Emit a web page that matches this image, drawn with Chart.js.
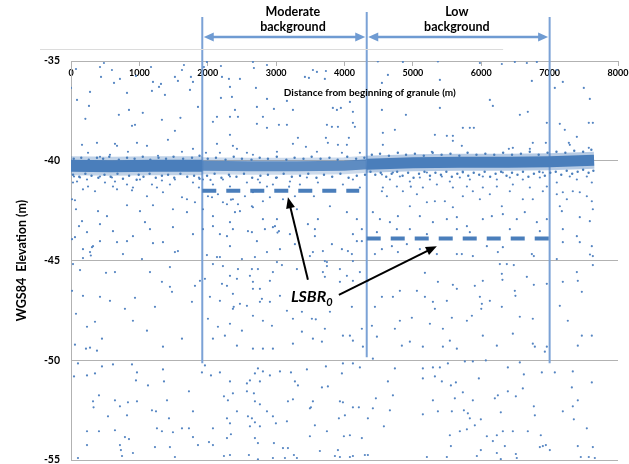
<!DOCTYPE html>
<html>
<head>
<meta charset="utf-8">
<script src="https://cdn.jsdelivr.net/npm/chart.js@4.4.0/dist/chart.umd.min.js"></script>
<style>
  html, body { margin: 0; padding: 0; background: #fff; }
</style>
</head>
<body>
<canvas id="lsbrChart" width="629" height="464"></canvas>
<script>
// --- dados ---
const xTicks = [0, 1000, 2000, 3000, 4000, 5000, 6000, 7000, 8000];
const yTicks = [-35, -40, -45, -50, -55];

// limites das regioes (m) e o nivel LSBR0 de cada uma
const regionX = [1920, 4325, 7000];
const regionTop = [-32.8, -32.55, -32.8];
const regionBottom = [-50.15, -49.85, -50.15];
const lsbrStart = [1920, 4325];
const lsbrEnd = [4215, 7000];
const lsbrLevel = [-41.5, -43.9];

// faixa densa da superficie (centro)
const bandX = [0, 600, 1200, 1920, 2600, 3300, 4000, 4325, 5000, 5700, 6400, 7000, 7650];
const bandY = [-40.25, -40.27, -40.25, -40.25, -40.27, -40.27, -40.25, -40.18, -40.1, -40.08, -40.07, -40.05, -39.98];

// pontos nas bordas da faixa
const bandEdge = [
  [40,-39.9],[150,-39.85],[260,-39.95],[380,-39.85],[470,-39.9],[560,-39.8],[700,-39.95],[820,-39.85],[930,-39.9],[1050,-39.8],
  [1160,-39.95],[1280,-39.85],[1390,-39.9],[1500,-39.8],[1640,-39.9],[1770,-39.85],[1880,-39.75],[2000,-39.9],[2120,-39.85],[2260,-39.95],
  [2380,-39.8],[2500,-39.9],[2640,-39.95],[2760,-39.85],[2880,-39.9],[3010,-39.8],[3150,-39.95],[3270,-39.85],[3400,-39.9],[3520,-39.8],
  [3650,-39.9],[3780,-39.85],[3900,-39.95],[4040,-39.8],[4170,-39.9],[4290,-39.85],[4400,-39.7],[4520,-39.65],[4650,-39.75],[4780,-39.6],
  [4900,-39.7],[5030,-39.65],[5160,-39.75],[5290,-39.6],[5420,-39.7],[5550,-39.65],[5680,-39.75],[5800,-39.6],[5930,-39.7],[6060,-39.65],
  [6190,-39.7],[6320,-39.6],[6450,-39.7],[6580,-39.65],[6710,-39.55],[6840,-39.7],[6970,-39.6],[7100,-39.55],[7230,-39.6],[7360,-39.5],
  [7490,-39.55],[7610,-39.45],
  [30,-40.7],[120,-40.8],[210,-40.65],[300,-40.75],[400,-40.85],[490,-40.7],[580,-40.8],[680,-40.65],[760,-40.9],[850,-40.75],
  [960,-40.95],[990,-40.7],[1060,-40.8],[1150,-40.65],[1240,-40.85],[1330,-40.75],[1420,-40.7],[1510,-40.85],[1600,-40.65],[1700,-40.8],
  [1800,-40.75],[1880,-40.9],[1990,-40.75],[2100,-40.65],[2200,-40.85],[2310,-40.7],[2420,-40.8],[2530,-40.65],[2650,-40.85],[2770,-40.75],
  [2880,-40.7],[3000,-40.85],[3110,-40.65],[3230,-40.8],[3350,-40.75],[3470,-40.65],[3590,-40.85],[3700,-40.7],[3820,-40.8],[3940,-40.65],
  [4060,-40.85],[4180,-40.75],[4300,-40.7],[4380,-40.55],[4450,-40.7],[4530,-40.6],[4610,-40.8],[4690,-40.65],[4770,-40.55],[4850,-40.75],
  [4930,-40.6],[5010,-40.85],[5090,-40.65],[5170,-40.55],[5250,-40.75],[5330,-40.6],[5410,-40.7],[5490,-40.55],[5570,-40.8],[5650,-40.65],
  [5730,-40.55],[5810,-40.75],[5890,-40.6],[5970,-40.7],[6050,-40.55],[6130,-40.8],[6210,-40.65],[6290,-40.55],[6370,-40.75],[6450,-40.6],
  [6530,-40.7],[6610,-40.55],[6690,-40.8],[6770,-40.65],[6850,-40.55],[6930,-40.75],[7010,-40.6],[7090,-40.55],[7170,-40.7],[7250,-40.5],
  [7330,-40.65],[7410,-40.55],[7490,-40.45],[7570,-40.6],[7640,-40.5]
];

// ruido acima da superficie
const aboveBand = [
  [73,-35.4],[0,-36.35],[88,-36.95],[278,-36.55],[263,-37.25],[424,-35.3],[482,-35.1],[599,-35.45],[439,-35.8],[629,-36.1],
  [716,-35.9],[819,-36.6],[848,-37.45],[950,-35.75],[1170,-35.3],[1199,-36.05],[1184,-36.5],[1287,-36.3],[1316,-36.15],[1374,-36.7],
  [1520,-35.8],[1623,-35.45],[1652,-35.2],[1564,-36.0],[1754,-35.8],[1784,-36.05],[1857,-37.3],[1740,-36.45],
  [161,-39.2],[380,-39.1],[643,-39.15],[673,-39.25],[892,-38.25],[936,-38.2],[965,-39.1],[249,-39.6],[424,-39.8],[570,-39.7],
  [833,-39.55],[1111,-39.25],[1272,-39.75],[1418,-38.95],[1520,-38.5],[1623,-39.55],[1784,-39.4],[210,-37.9],[700,-37.7],[1330,-37.95],
  [1050,-37.6],[1600,-37.85],
  [1944,-35.3],[1988,-35.05],[2193,-35.25],[2208,-35.8],[2310,-35.9],[2325,-36.3],[2354,-36.8],[2193,-36.85],[2398,-37.45],[2471,-35.9],
  [2661,-35.05],[2675,-35.35],[2705,-36.35],[2719,-37.3],[2866,-35.2],[2866,-36.9],[2968,-37.4],[3158,-37.0],[3246,-37.45],[3421,-35.8],
  [3538,-35.45],[3480,-35.85],[2135,-37.8],[2325,-37.8],[2442,-37.8],[2807,-37.8],[3728,-35.5],[3713,-35.9],[3830,-37.35],[3889,-37.45],
  [3947,-37.35],[4123,-37.55],[4079,-37.05],[3597,-35.55],[3743,-38.2],[3816,-38.3],[3904,-38.3],[4123,-38.1],[4152,-38.3],[3728,-38.85],
  [3757,-39.1],[3904,-39.2],[4035,-39.2],[4064,-38.85],[3962,-39.6],[3597,-39.55],[4225,-39.6],[2076,-38.05],[2325,-38.7],[2368,-39.25],
  [2427,-39.4],[2135,-39.15],[2719,-38.15],[2866,-38.35],[3041,-38.2],[3158,-38.2],[3246,-39.15],[3319,-38.85],[3436,-39.3],[1974,-39.6],
  [2178,-39.6],[2573,-39.6],[2661,-39.7],[3012,-39.55],
  [4488,-35.02],[4854,-35.05],[5366,-35.02],[5980,-35.1],[6301,-35.15],[6491,-35.05],[6667,-35.1],[6813,-35.05],[4635,-35.7],[4547,-36.1],
  [5395,-35.95],[6126,-36.95],[6170,-37.25],[6740,-36.0],[4547,-37.45],[4898,-37.7],[5395,-37.35],[6565,-37.7],[6681,-37.55],[4561,-38.6],
  [4561,-39.2],[4737,-38.45],[5322,-38.7],[5497,-38.75],[5585,-39.0],[5585,-38.75],[5731,-38.35],[5833,-38.35],[5892,-38.35],[5716,-39.25],
  [5278,-39.55],[6404,-39.4],[6462,-39.35],[6754,-39.1],[6945,-39.1],[6711,-39.4],[6959,-38.1],
  [7076,-36.35],[7193,-36.05],[7500,-36.35],[7588,-36.9],[7105,-35.45],[7149,-38.15],[7222,-38.45],[7281,-39.1],[7398,-38.8],[7573,-38.1],
  [7632,-38.1],[7573,-39.35],[7295,-39.2]
];

// ruido abaixo da superficie, regiao esquerda (0 - 1920 m)
const belowLeft = [
  [44,-40.79],[88,-41.04],[15,-41.93],[58,-41.98],[132,-40.84],[234,-40.94],[249,-41.29],[424,-40.79],[351,-41.53],[497,-41.09],
  [599,-40.84],[614,-41.29],[643,-41.04],[673,-41.43],[819,-41.19],[892,-41.48],[906,-41.34],[1009,-40.94],[1111,-41.78],[1184,-41.19],
  [1257,-41.34],[1330,-40.99],[1345,-41.58],[1447,-41.19],[1520,-40.94],[1623,-41.83],[1696,-41.93],[1784,-41.09],[1871,-40.84],[1871,-41.34],
  [73,-42.43],[395,-42.53],[526,-42.78],[819,-42.23],[1009,-42.53],[1082,-43.08],[1199,-42.23],[1491,-42.43],[1696,-42.58],[1813,-42.08],
  [234,-43.58],[424,-43.18],[614,-43.53],[906,-43.78],[1155,-43.43],[1491,-43.33],[1784,-43.68],[117,-43.28],[29,-41.09],[175,-41.43],
  [161,-43.03],[58,-43.83],[15,-43.93],[175,-44.43],[307,-44.33],[278,-44.58],[29,-45.18],[132,-45.48],[15,-46.52],[73,-47.67],
  [175,-46.77],[234,-48.32],[351,-48.07],[424,-46.82],[453,-48.92],[512,-45.62],[570,-47.02],[643,-45.58],[789,-47.42],[936,-46.87],
  [906,-48.02],[1111,-48.52],[1155,-45.58],[1228,-47.32],[1330,-46.07],[1447,-46.32],[1477,-46.57],[1520,-44.58],[1564,-44.53],[1623,-48.92],
  [1769,-47.07],[1813,-46.27],[1886,-46.02],[1447,-45.33],[290,-44.75],[175,-44.88],[322,-44.28],[424,-44.03],[673,-44.08],[760,-44.68],
  [1038,-44.93],[1199,-44.13],[1345,-44.08],[819,-44.03],[219,-49.42],[278,-49.37],[380,-49.52],[1345,-49.32],[58,-49.22],
  [102,-50.16],[44,-50.81],[234,-50.76],[351,-50.66],[453,-50.31],[614,-50.21],[892,-50.21],[965,-50.61],[950,-51.01],[1126,-51.26],
  [1345,-50.46],[1360,-51.06],[409,-51.76],[322,-52.06],[330,-52.36],[716,-52.31],[643,-52.01],[833,-52.11],[965,-52.06],[1404,-52.01],
  [1184,-52.51],[1243,-52.56],[541,-52.81],[819,-52.76],[1433,-52.91],[234,-53.56],[409,-53.56],[643,-53.51],[789,-53.85],[848,-53.95],
  [1257,-53.41],[1330,-53.56],[1491,-53.61],[1623,-53.41],[1725,-53.41],[234,-54.25],[716,-54.25],[730,-54.5],[906,-54.65],[1228,-54.35],
  [1447,-54.35],[102,-54.9],[746,-54.8],[1520,-54.85],[1784,-53.85],[1857,-54.25],[1725,-51.56],[1784,-52.56]
];

// regiao de fundo moderado (1920 - 4325 m)
const belowMid = [
  [1930,-40.94],[2003,-41.78],[2076,-41.19],[2149,-41.68],[2222,-40.94],[2325,-41.29],[2368,-41.93],[2442,-42.18],[2544,-41.78],[2661,-41.58],
  [2734,-40.94],[2866,-41.29],[2909,-41.83],[3012,-40.84],[3100,-41.93],[3202,-41.04],[3275,-41.78],[3348,-41.19],[3450,-40.84],[3553,-41.78],
  [1930,-42.43],[2076,-42.78],[2281,-42.18],[2398,-42.58],[2661,-42.33],[2807,-42.93],[3041,-43.53],[2983,-43.28],[3012,-42.93],[2076,-43.28],
  [2178,-43.68],[1930,-43.43],[2368,-43.43],[2646,-43.58],[3465,-43.18],[3567,-43.78],[2040,-40.96],[2325,-40.79],[2573,-41.09],[2763,-41.09],
  [2953,-41.19],[3190,-41.3],[3611,-41.09],[3977,-41.19],[4123,-40.94],[4225,-41.34],[2062,-41.83],[2222,-42.08],[2340,-41.95],[2471,-42.53],
  [2646,-42.28],[2807,-42.03],[3304,-42.43],[3611,-42.93],[3787,-42.28],[4035,-42.58],[4181,-42.93],[2325,-43.08],[2588,-43.53],[2836,-43.43],
  [2953,-43.33],[3020,-43.6],[3202,-43.68],[3567,-43.43],[3816,-44.18],[3962,-44.43],[4123,-43.68],[4254,-43.43],[2281,-43.78],[2325,-44.28],
  [2719,-44.03],[2866,-44.58],[3056,-44.43],[3275,-44.18],[3494,-44.78],[3684,-44.53],[4108,-44.68],[2178,-44.83],[2500,-44.93],[2690,-44.83],
  [2222,-45.28],[2325,-45.77],[2442,-45.43],[2617,-45.77],[2734,-45.43],[2909,-46.02],[3012,-45.08],[3304,-45.43],[3713,-45.03],[3743,-45.28],
  [3684,-45.58],[3933,-45.43],[4035,-45.77],[4225,-45.58],[2208,-46.17],[2368,-46.67],[2661,-46.42],[2792,-46.92],[3056,-46.77],[2471,-47.17],
  [2380,-47.32],[1988,-44.73],[2135,-44.83],[2427,-45.92],[2646,-45.43],[2281,-46.27],[2661,-46.07],[2763,-46.42],[2953,-45.58],[3085,-45.23],
  [2032,-46.82],[2178,-47.02],[2368,-47.42],[2573,-47.27],[2763,-47.07],[2909,-47.07],[2003,-47.92],[2149,-48.32],[2325,-48.17],[2500,-48.52],
  [2661,-47.77],[2807,-48.02],[2939,-48.27],[2076,-48.92],[2251,-48.77],[2427,-49.27],[2661,-49.42],[2807,-49.42],[2953,-49.42],[3158,-47.52],
  [3246,-47.92],[3377,-47.57],[3523,-47.92],[3377,-48.57],[3538,-48.92],[3246,-49.17],[1959,-45.92],[2076,-45.18],[3538,-44.58],[3743,-45.08],
  [3713,-45.82],[3933,-46.07],[4123,-46.02],[4108,-47.32],[3787,-47.57],[3580,-47.95],[3713,-48.42],[3977,-48.77],[4079,-48.77],[4254,-48.42],
  [4269,-49.32],[3670,-49.07],[4123,-49.02],[4050,-44.53],[4181,-44.03],[4254,-44.03],[4123,-45.03],
  [1959,-50.26],[1915,-50.61],[2047,-50.76],[2178,-50.61],[2325,-51.06],[2573,-51.16],[2617,-51.01],[2763,-51.06],[2690,-50.66],[2734,-50.41],
  [2807,-50.56],[2909,-50.76],[3056,-50.56],[3217,-50.61],[3275,-51.06],[3319,-51.26],[3450,-50.46],[2237,-51.81],[2368,-51.66],[2573,-51.56],
  [2675,-51.66],[2295,-52.01],[2427,-52.56],[2690,-52.06],[2763,-52.21],[2866,-52.56],[3173,-52.06],[3246,-51.96],[3538,-52.06],[3509,-52.36],
  [2281,-52.91],[2325,-53.16],[2588,-52.81],[2646,-52.91],[2690,-53.11],[2763,-53.31],[2617,-53.31],[2953,-52.81],[2997,-53.16],[3158,-53.06],
  [2076,-53.41],[2339,-53.71],[2281,-53.9],[2690,-53.9],[2734,-54.15],[2968,-54.15],[3100,-54.4],[3173,-54.4],[3129,-54.9],[3260,-54.75],
  [3304,-54.9],[2018,-54.1],[2076,-54.25],[2237,-54.8],[2325,-54.75],[2602,-54.75],[2734,-54.97],[2953,-54.9],[3494,-53.81],[3567,-53.26],
  [3728,-50.31],[3977,-50.16],[4123,-50.16],[4225,-50.36],[3962,-50.66],[3670,-51.36],[3757,-51.31],[3494,-52.41],[3933,-52.06],[3977,-52.11],
  [4123,-52.36],[4210,-52.36],[3918,-52.91],[4006,-52.76],[3743,-53.56],[3991,-53.81],[4079,-53.76],[4254,-53.9],[3640,-54.55],[3904,-54.5],
  [3860,-54.8],[3933,-54.85],[4079,-54.85],[4123,-54.8],[4298,-54.75]
];

// regiao de fundo baixo e final do granulo (4325 - 7650 m)
const belowRight = [
  [4547,-40.69],[4664,-40.94],[4810,-40.79],[4956,-41.04],[5102,-40.84],[5249,-40.94],[5424,-40.79],[5541,-41.04],[5687,-40.84],[5833,-40.94],
  [6023,-40.79],[6228,-40.94],[6418,-40.84],[6608,-40.94],[6857,-40.84],[4708,-40.59],[5205,-40.59],[5731,-40.59],[6316,-40.59],[6901,-40.59],
  [4561,-41.34],[4766,-41.29],[4970,-41.3],[5146,-41.34],[5351,-41.19],[5585,-41.34],[5790,-41.29],[6023,-41.34],[6228,-41.29],[6462,-41.19],
  [6711,-41.34],[6959,-41.29],[4547,-41.53],[4620,-41.78],[4854,-41.53],[4956,-42.28],[5059,-41.68],[5205,-42.08],[5322,-42.03],[5468,-42.03],
  [5585,-42.33],[5731,-41.78],[5877,-41.53],[5980,-41.93],[6126,-41.68],[6301,-42.28],[6418,-41.53],[6608,-41.93],[6754,-41.93],[6901,-41.53],
  [4415,-42.58],[4518,-42.93],[4664,-43.08],[4781,-42.78],[4956,-43.43],[5102,-42.78],[5293,-43.08],[5497,-42.93],[5643,-42.83],[5790,-43.28],
  [6023,-42.93],[6155,-42.78],[6316,-42.68],[6520,-42.93],[6637,-42.58],[6813,-43.08],[6959,-42.93],[4474,-43.58],[4766,-43.43],[5205,-43.68],
  [5643,-43.43],[5833,-43.58],[6418,-43.43],[6857,-43.53],
  [4445,-44.68],[4547,-44.43],[4693,-44.28],[4781,-44.58],[4912,-44.18],[5102,-44.43],[5351,-44.68],[5643,-44.68],[5716,-44.68],[5877,-44.78],
  [6082,-44.28],[6243,-44.58],[6316,-44.33],[6740,-44.68],[6769,-44.78],[6272,-45.18],[6374,-45.18],[6476,-45.23],[5176,-45.62],[5366,-46.07],
  [5585,-46.22],[5906,-46.27],[6023,-46.02],[6301,-45.67],[6310,-45.97],[6667,-45.82],[6769,-46.22],[6959,-46.17],[4342,-46.02],[4445,-47.32],
  [4547,-46.82],[4708,-46.82],[4810,-46.52],[5059,-46.52],[5176,-46.82],[5293,-47.07],[5322,-47.42],[5497,-47.02],[5643,-46.42],[5980,-46.82],
  [6009,-47.17],[6000,-47.42],[6126,-47.02],[6301,-47.32],[6491,-46.52],[6500,-46.77],[4810,-48.02],[4985,-47.87],[5249,-48.17],[5570,-47.87],
  [5790,-48.02],[5863,-47.77],[6564,-47.82],[6754,-47.92],[4401,-48.27],[4474,-48.82],[4737,-48.42],[4839,-49.27],[5439,-48.42],[5541,-49.02],
  [5643,-49.42],[5439,-49.32],[6023,-48.77],[6228,-49.27],[6462,-48.67],[6754,-49.17],[6784,-49.32],[6959,-49.32],[6930,-49.57],[5146,-49.32],
  [4956,-49.07],
  [4415,-49.92],[4737,-50.41],[4635,-51.06],[4708,-51.76],[4459,-51.91],[4415,-52.41],[4342,-52.91],[4576,-53.31],[4664,-52.51],[4342,-54.75],
  [5146,-50.41],[5293,-50.36],[5395,-50.36],[5322,-50.81],[5424,-51.06],[5512,-50.16],[5556,-51.26],[5629,-51.11],[5760,-50.06],[5877,-50.06],
  [6067,-50.01],[5965,-50.91],[5731,-51.61],[5146,-50.91],[5293,-52.01],[5614,-51.91],[5877,-52.01],[5146,-52.71],[5366,-52.56],[5570,-52.56],
  [5746,-52.51],[5804,-52.66],[5833,-52.91],[5994,-52.96],[5906,-53.26],[5790,-53.46],[5687,-53.56],[5541,-53.76],[5556,-54.3],[5497,-54.85],
  [5205,-54.85],[5936,-54.8],[5994,-54.5],[6082,-53.81],[6170,-54.05],[6228,-53.76],[6316,-53.56],[6462,-53.56],[6681,-53.56],[6871,-53.76],
  [6945,-54.25],[6901,-54.3],[7003,-54.5],[6857,-54.35],[6228,-54.65],[6286,-54.95],[6506,-54.7],[6520,-54.9],[6345,-54.3],[6199,-51.91],
  [6243,-51.76],[6389,-51.56],[6506,-51.81],[6608,-51.41],[6286,-52.61],[6784,-52.76],[6389,-50.36],[6623,-50.71],[6564,-50.11],[6886,-50.61],
  [6769,-52.31],
  [7105,-41.68],[7193,-41.58],[7252,-41.93],[7149,-42.28],[7339,-41.53],[7441,-41.58],[7544,-41.78],[7617,-42.03],[7179,-42.53],[7441,-42.83],
  [7588,-43.03],[7632,-42.43],[7295,-40.79],[7398,-40.94],[7544,-40.79],[7617,-41.09],[7105,-41.09],[7193,-43.43],[7398,-43.78],[7617,-44.28],
  [7632,-44.78],[7441,-44.08],[7193,-44.08],[7105,-44.93],[7149,-47.27],[7193,-46.07],[7266,-48.02],[7398,-45.58],[7412,-46.02],[7471,-46.57],
  [7590,-44.7],[7632,-45.23],[7471,-48.77],[7617,-48.77],[7412,-49.27],[7076,-50.61],[7339,-50.56],[7325,-51.36],[7412,-52.01],[7339,-52.31],
  [7354,-52.96],[7193,-52.56],[7544,-53.41],[7617,-51.11],[7412,-54.3],[7632,-54.35],[7456,-54.85],[7573,-54.85],[7661,-54.9]
];

// --- estilo ---
const FONT = 'Lato, "Liberation Sans", Arial, sans-serif';
const BLUE = '#4a7ebb';
const DOT = '#5585c2';
const LINE_BLUE = '#7ba2d6';
const GRID = '#b2b2b2';

Chart.defaults.font.family = FONT;
Chart.defaults.color = '#000';

const toPts = (arr) => arr.map(([x, y]) => ({ x, y }));
const bandPart = (lo, hi) => bandX
  .map((x, i) => ({ x, y: bandY[i] }))
  .filter(p => p.x >= lo && p.x <= hi);

const datasets = [];

// linhas verticais que separam as regioes
regionX.forEach((x, i) => {
  datasets.push({
    type: 'line', order: 9, clip: false,
    data: [{ x, y: regionTop[i] }, { x, y: regionBottom[i] }],
    borderColor: LINE_BLUE, borderWidth: 2, pointRadius: 0
  });
});

// nuvem de pontos
[aboveBand, belowLeft, belowMid, belowRight].forEach(arr => {
  datasets.push({
    type: 'scatter', order: 8, data: toPts(arr),
    backgroundColor: DOT, borderWidth: 0, pointRadius: 1.1
  });
});

// faixa da superficie: halo claro + nucleo
const bandParts = [
  [0, 1920, 12, BLUE, 19, 'rgba(74,126,187,0.35)'],
  [1920, 4325, 10, 'rgba(74,126,187,0.85)', 17, 'rgba(74,126,187,0.28)'],
  [4325, 7650, 11, BLUE, 17, 'rgba(74,126,187,0.4)']
];
bandParts.forEach(([lo, hi, w, c, hw, hc]) => {
  datasets.push({
    type: 'line', order: 6, data: bandPart(lo, hi),
    borderColor: hc, borderWidth: hw, pointRadius: 0, borderCapStyle: 'butt', tension: 0
  });
  datasets.push({
    type: 'line', order: 5, data: bandPart(lo, hi),
    borderColor: c, borderWidth: w, pointRadius: 0, borderCapStyle: 'butt', tension: 0
  });
});
datasets.push({
  type: 'scatter', order: 4, data: toPts(bandEdge),
  backgroundColor: BLUE, borderWidth: 0, pointRadius: 1.2
});

// niveis LSBR0 (tracejado)
lsbrLevel.forEach((lv, i) => {
  datasets.push({
    type: 'line', order: 2,
    data: [{ x: lsbrStart[i], y: lv }, { x: lsbrEnd[i], y: lv }],
    borderColor: BLUE, borderWidth: 4, borderDash: [14, 10], pointRadius: 0, borderCapStyle: 'butt'
  });
});

// --- anotacoes (setas e textos) ---
const arrowHead = (ctx, x1, y1, x2, y2, len, half) => {
  const a = Math.atan2(y2 - y1, x2 - x1);
  ctx.beginPath();
  ctx.moveTo(x2, y2);
  ctx.lineTo(x2 - len * Math.cos(a) + half * Math.sin(a), y2 - len * Math.sin(a) - half * Math.cos(a));
  ctx.lineTo(x2 - len * Math.cos(a) - half * Math.sin(a), y2 - len * Math.sin(a) + half * Math.cos(a));
  ctx.closePath();
  ctx.fill();
};

const arrow = (ctx, x1, y1, x2, y2, len, half) => {
  const a = Math.atan2(y2 - y1, x2 - x1);
  ctx.beginPath();
  ctx.moveTo(x1, y1);
  ctx.lineTo(x2 - len * 0.7 * Math.cos(a), y2 - len * 0.7 * Math.sin(a));
  ctx.stroke();
  arrowHead(ctx, x1, y1, x2, y2, len, half);
};

const annotations = {
  id: 'annotations',
  afterDatasetsDraw(chart) {
    const { ctx, scales: { x, y } } = chart;
    const px = (v) => x.getPixelForValue(v);
    const py = (v) => y.getPixelForValue(v);
    ctx.save();

    // linha clara acima do eixo
    ctx.strokeStyle = '#dcdcdc';
    ctx.lineWidth = 1;
    ctx.beginPath();
    ctx.moveTo(40, py(-35) - 11.5);
    ctx.lineTo(px(6320), py(-35) - 11.5);
    ctx.stroke();

    // setas duplas das regioes
    const ay = py(-33.8);
    ctx.strokeStyle = '#6f9bd2';
    ctx.fillStyle = '#6f9bd2';
    ctx.lineWidth = 2.5;
    [[regionX[0], regionX[1]], [regionX[1], regionX[2]]].forEach(([a, b]) => {
      const xa = px(a) + 1.5, xb = px(b) - 1.5;
      ctx.beginPath();
      ctx.moveTo(xa + 6, ay);
      ctx.lineTo(xb - 6, ay);
      ctx.stroke();
      arrowHead(ctx, xb, ay, xa, ay, 10, 4.5);
      arrowHead(ctx, xa, ay, xb, ay, 10, 4.5);
    });

    // textos das regioes
    ctx.fillStyle = '#000';
    ctx.textAlign = 'center';
    ctx.textBaseline = 'middle';
    ctx.font = 'bold 12.5px ' + FONT;
    ctx.fillText('Moderate', px(3246), py(-32.55));
    ctx.fillText('background', px(3246), py(-33.3));
    ctx.fillText('Low', px(5643), py(-32.55));
    ctx.fillText('background', px(5643), py(-33.3));

    // titulo do eixo x
    ctx.font = 'bold 10px ' + FONT;
    ctx.fillText('Distance from beginning of granule (m)', px(4370), py(-35) + 32);

    // setas LSBR0
    ctx.strokeStyle = '#000';
    ctx.fillStyle = '#000';
    ctx.lineWidth = 2;
    arrow(ctx, px(3465), py(-45.97), px(3173), py(-41.83), 11, 4.5);
    arrow(ctx, px(3918), py(-46.72), px(5351), py(-44.28), 11, 4.5);

    // rotulo LSBR0
    ctx.textAlign = 'left';
    ctx.textBaseline = 'alphabetic';
    ctx.font = 'italic bold 16px ' + FONT;
    const lx = px(3216), ly = py(-47.07);
    ctx.fillText('LSBR', lx, ly);
    const w = ctx.measureText('LSBR').width;
    ctx.font = 'italic bold 11px ' + FONT;
    ctx.fillText('0', lx + w, ly + 4);

    ctx.restore();
  }
};

new Chart(document.getElementById('lsbrChart'), {
  data: { datasets },
  options: {
    responsive: false,
    animation: false,
    events: [],
    layout: { padding: { top: 61, left: 0, right: 11, bottom: -38 } },
    plugins: { legend: { display: false }, tooltip: { enabled: false } },
    scales: {
      x: {
        type: 'linear',
        min: 0, max: 8000,
        position: { y: -35 },
        afterBuildTicks: (s) => { s.ticks = xTicks.map(v => ({ value: v })); },
        afterFit: (s) => { s.height = 40; s.paddingLeft = 0; s.paddingRight = 0; },
        grid: { drawOnChartArea: false, drawTicks: true, tickLength: 4, tickColor: GRID },
        border: { display: true, color: GRID },
        ticks: {
          padding: 3, maxRotation: 0, autoSkip: false, color: '#000',
          font: { size: 9, weight: 'bold' },
          callback: (v) => String(v)
        }
      },
      y: {
        type: 'linear',
        min: -55, max: -35,
        afterBuildTicks: (s) => { s.ticks = yTicks.map(v => ({ value: v })); },
        afterFit: (s) => { s.width = 71; s.paddingTop = 0; s.paddingBottom = 0; },
        grid: { color: GRID, drawTicks: false },
        border: { display: true, color: GRID },
        ticks: { padding: 11, color: '#000', font: { size: 10.5, weight: 'bold' } },
        title: {
          display: true, text: 'WGS84  Elevation (m)', color: '#000',
          font: { size: 12.5, weight: 'bold' }, padding: { top: 14, bottom: 0 }
        }
      }
    }
  },
  plugins: [annotations]
});
</script>
</body>
</html>
